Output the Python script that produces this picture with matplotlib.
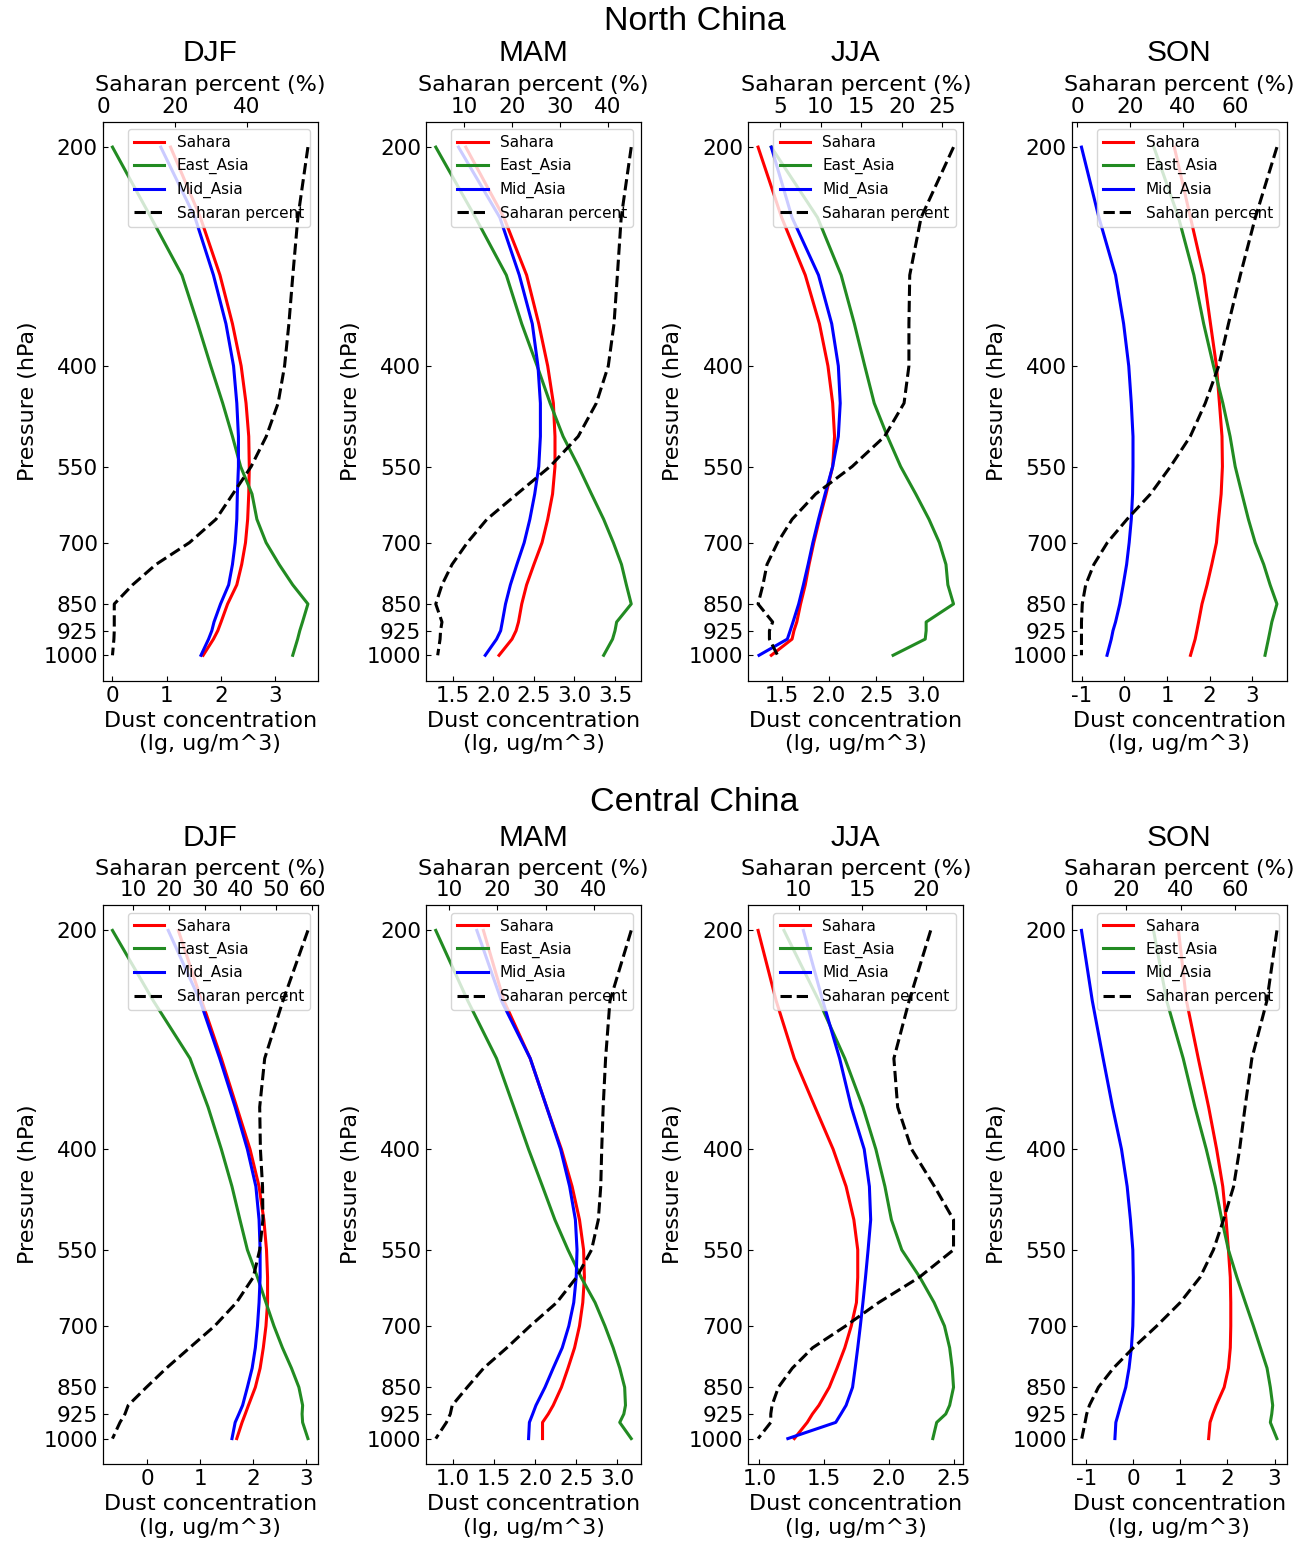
import matplotlib
matplotlib.use("Agg")
import matplotlib.pyplot as plt
from matplotlib.ticker import FixedLocator, FixedFormatter, NullLocator

plt.rcParams["font.family"] = ["DejaVu Sans"]
plt.rcParams["axes.unicode_minus"] = False

# pressure levels (hPa) shared by every profile
levels = [200, 250, 300, 350, 400, 450, 500, 550, 600, 650, 700, 750, 800,
          850, 900, 925, 950, 1000]
ytick_vals = [200, 400, 550, 700, 850, 925, 1000]

# ---- North China (lg ug/m^3; Saharan percent in %) ----
nc_djf_sahara = [1.07, 1.62, 1.98, 2.21, 2.37, 2.46, 2.51, 2.52, 2.51, 2.49,
                 2.45, 2.38, 2.29, 2.12, 2.00, 1.94, 1.86, 1.67]
nc_djf_east = [0.00, 0.71, 1.28, 1.57, 1.81, 2.03, 2.21, 2.36, 2.57, 2.66,
               2.83, 3.07, 3.32, 3.60, 3.50, 3.45, 3.41, 3.32]
nc_djf_mid = [0.89, 1.52, 1.86, 2.09, 2.23, 2.29, 2.32, 2.32, 2.30, 2.29,
              2.26, 2.21, 2.14, 1.99, 1.87, 1.83, 1.77, 1.63]
nc_djf_pct = [57.0, 54.2, 52.8, 51.7, 50.5, 48.7, 45.4, 41.2, 36.1, 31.4,
              24.0, 14.7, 8.2, 3.1, 3.1, 3.1, 3.0, 2.6]

nc_mam_sahara = [1.66, 2.13, 2.41, 2.56, 2.67, 2.74, 2.76, 2.76, 2.73, 2.67,
                 2.60, 2.50, 2.41, 2.35, 2.31, 2.28, 2.23, 2.07]
nc_mam_east = [1.29, 1.78, 2.16, 2.35, 2.54, 2.70, 2.86, 3.05, 3.21, 3.36,
               3.48, 3.58, 3.64, 3.70, 3.52, 3.50, 3.47, 3.36]
nc_mam_mid = [1.57, 2.08, 2.32, 2.48, 2.55, 2.58, 2.58, 2.56, 2.51, 2.45,
              2.38, 2.29, 2.21, 2.15, 2.11, 2.09, 2.04, 1.90]
nc_mam_pct = [44.9, 42.8, 42.0, 41.3, 40.1, 37.6, 33.8, 27.9, 21.0, 14.7,
              10.6, 7.4, 5.3, 4.0, 5.3, 5.0, 4.9, 4.4]

nc_jja_sahara = [1.25, 1.50, 1.75, 1.90, 1.99, 2.04, 2.06, 2.04, 1.97, 1.90,
                 1.84, 1.79, 1.75, 1.70, 1.66, 1.63, 1.61, 1.39]
nc_jja_east = [1.39, 1.88, 2.13, 2.27, 2.38, 2.48, 2.62, 2.76, 2.92, 3.06,
               3.17, 3.24, 3.26, 3.32, 3.03, 3.03, 3.02, 2.68]
nc_jja_mid = [1.39, 1.61, 1.89, 2.03, 2.10, 2.12, 2.10, 2.04, 1.96, 1.89,
              1.83, 1.78, 1.73, 1.68, 1.62, 1.59, 1.56, 1.26]
nc_jja_pct = [26.4, 22.4, 21.0, 20.9, 20.9, 20.3, 17.9, 13.9, 9.4, 6.5,
              4.7, 3.4, 2.9, 2.3, 4.1, 3.7, 3.7, 4.7]

nc_son_sahara = [1.17, 1.55, 1.86, 2.02, 2.16, 2.23, 2.29, 2.30, 2.27, 2.21,
                 2.16, 2.05, 1.94, 1.82, 1.74, 1.70, 1.66, 1.55]
nc_son_east = [0.69, 1.27, 1.63, 1.86, 2.09, 2.31, 2.48, 2.60, 2.76, 2.91,
               3.07, 3.27, 3.42, 3.58, 3.46, 3.42, 3.38, 3.30]
nc_son_mid = [-1.01, -0.60, -0.21, -0.02, 0.10, 0.16, 0.20, 0.20, 0.19, 0.16,
              0.11, 0.05, -0.03, -0.11, -0.21, -0.27, -0.31, -0.41]
nc_son_pct = [75.8, 67.6, 61.9, 57.4, 53.7, 48.6, 42.9, 35.4, 27.8, 18.9,
              11.4, 6.3, 3.2, 1.9, 1.6, 1.6, 1.6, 1.6]

# ---- Central China ----
cc_djf_sahara = [0.59, 1.03, 1.40, 1.69, 1.94, 2.11, 2.20, 2.25, 2.27, 2.27,
                 2.24, 2.19, 2.13, 2.04, 1.91, 1.85, 1.79, 1.69]
cc_djf_east = [-0.65, 0.12, 0.81, 1.15, 1.40, 1.60, 1.75, 1.89, 2.08, 2.24,
               2.39, 2.55, 2.72, 2.86, 2.93, 2.92, 2.93, 3.03]
cc_djf_mid = [0.40, 1.00, 1.37, 1.66, 1.89, 2.05, 2.11, 2.13, 2.13, 2.11,
              2.08, 2.04, 1.98, 1.89, 1.80, 1.73, 1.66, 1.60]
cc_djf_pct = [58.9, 51.9, 46.8, 45.4, 45.6, 46.2, 46.3, 45.4, 43.6, 38.9,
              32.8, 25.8, 19.3, 13.7, 8.6, 7.7, 6.3, 4.2]

cc_mam_sahara = [1.37, 1.62, 1.94, 2.14, 2.32, 2.45, 2.54, 2.59, 2.60, 2.58,
                 2.54, 2.48, 2.40, 2.32, 2.22, 2.16, 2.09, 2.09]
cc_mam_east = [0.79, 1.18, 1.53, 1.74, 1.92, 2.09, 2.24, 2.40, 2.56, 2.73,
               2.85, 2.95, 3.03, 3.09, 3.10, 3.08, 3.03, 3.17]
cc_mam_mid = [1.29, 1.59, 1.94, 2.14, 2.31, 2.42, 2.49, 2.51, 2.50, 2.47,
              2.41, 2.33, 2.22, 2.12, 2.01, 1.97, 1.93, 1.92]
cc_mam_pct = [47.7, 43.3, 42.4, 41.9, 41.6, 41.4, 40.9, 39.5, 36.4, 32.3,
              26.8, 22.0, 17.2, 13.8, 10.7, 10.3, 9.5, 7.3]

cc_jja_sahara = [0.99, 1.13, 1.27, 1.43, 1.57, 1.67, 1.73, 1.76, 1.76, 1.75,
                 1.71, 1.66, 1.60, 1.54, 1.46, 1.41, 1.37, 1.27]
cc_jja_east = [1.19, 1.46, 1.66, 1.80, 1.90, 1.97, 2.02, 2.10, 2.24, 2.35,
               2.43, 2.47, 2.49, 2.50, 2.47, 2.44, 2.37, 2.34]
cc_jja_mid = [1.34, 1.49, 1.62, 1.71, 1.81, 1.85, 1.86, 1.84, 1.82, 1.80,
              1.78, 1.76, 1.74, 1.72, 1.67, 1.63, 1.59, 1.22]
cc_jja_pct = [20.4, 18.7, 17.5, 17.8, 18.9, 20.7, 22.2, 22.2, 19.5, 16.3,
              13.7, 11.1, 9.5, 8.4, 7.9, 7.8, 7.8, 6.8]

cc_son_sahara = [0.96, 1.13, 1.38, 1.60, 1.77, 1.90, 1.97, 2.02, 2.06, 2.07,
                 2.07, 2.06, 2.02, 1.93, 1.76, 1.69, 1.63, 1.60]
cc_son_east = [0.43, 0.71, 1.06, 1.31, 1.55, 1.74, 1.88, 2.02, 2.20, 2.38,
               2.55, 2.70, 2.84, 2.91, 2.96, 2.94, 2.91, 3.05]
cc_son_mid = [-1.10, -0.87, -0.64, -0.44, -0.25, -0.13, -0.06, -0.01, 0.00,
              0.00, -0.01, -0.04, -0.09, -0.16, -0.27, -0.32, -0.37, -0.39]
cc_son_pct = [75.3, 71.6, 66.1, 63.6, 61.6, 59.4, 55.7, 52.0, 47.1, 39.8,
              31.2, 22.6, 15.3, 9.8, 6.5, 5.5, 4.9, 3.7]

seasons = ["DJF", "MAM", "JJA", "SON"]
regions = ["North China", "Central China"]

# tick positions per panel (bottom = dust, top = percent)
dust_ticks = [
    [[0, 1, 2, 3], [1.5, 2.0, 2.5, 3.0, 3.5], [1.5, 2.0, 2.5, 3.0], [-1, 0, 1, 2, 3]],
    [[0, 1, 2, 3], [1.0, 1.5, 2.0, 2.5, 3.0], [1.0, 1.5, 2.0, 2.5], [-1, 0, 1, 2, 3]],
]
pct_ticks = [
    [[0, 20, 40], [10, 20, 30, 40], [5, 10, 15, 20, 25], [0, 20, 40, 60]],
    [[10, 20, 30, 40, 50, 60], [10, 20, 30, 40], [10, 15, 20], [0, 20, 40, 60]],
]

profiles = [
    [(nc_djf_sahara, nc_djf_east, nc_djf_mid, nc_djf_pct),
     (nc_mam_sahara, nc_mam_east, nc_mam_mid, nc_mam_pct),
     (nc_jja_sahara, nc_jja_east, nc_jja_mid, nc_jja_pct),
     (nc_son_sahara, nc_son_east, nc_son_mid, nc_son_pct)],
    [(cc_djf_sahara, cc_djf_east, cc_djf_mid, cc_djf_pct),
     (cc_mam_sahara, cc_mam_east, cc_mam_mid, cc_mam_pct),
     (cc_jja_sahara, cc_jja_east, cc_jja_mid, cc_jja_pct),
     (cc_son_sahara, cc_son_east, cc_son_mid, cc_son_pct)],
]

W, H = 1308, 1545
fig = plt.figure(figsize=(W / 100, H / 100), dpi=100)

col_left = [102.7, 426.0, 748.3, 1071.7]
row_top = [121.7, 905.0]
ax_w, ax_h = 215.0, 559.0
lw = 2.2
title_font = ["Liberation Sans", "DejaVu Sans"]

for r in range(2):
    for c in range(4):
        sah, east, mid, pct = profiles[r][c]
        l, t = col_left[c], row_top[r]
        ax = fig.add_axes([l / W, 1 - (t + ax_h) / H, ax_w / W, ax_h / H])
        ax.set_yscale("log")
        h1, = ax.plot(sah, levels, color="red", lw=lw, label="Sahara")
        h2, = ax.plot(east, levels, color="forestgreen", lw=lw,
                      label="East_Asia")
        h3, = ax.plot(mid, levels, color="blue", lw=lw, label="Mid_Asia")

        ax2 = ax.twiny()
        h4, = ax2.plot(pct, levels, color="black", ls="--", lw=lw,
                       label="Saharan percent")
        ax.invert_yaxis()

        ax.yaxis.set_major_locator(FixedLocator(ytick_vals))
        ax.yaxis.set_major_formatter(FixedFormatter([str(v) for v in ytick_vals]))
        ax.yaxis.set_minor_locator(NullLocator())
        ax.set_xticks(dust_ticks[r][c])
        ax2.set_xticks(pct_ticks[r][c])

        ax.tick_params(direction="in", labelsize=15.5, which="both")
        ax2.tick_params(direction="in", labelsize=15.5)
        ax.set_xlabel("Dust concentration\n(lg, ug/m^3)", fontsize=16)
        ax2.set_xlabel("Saharan percent (%)", fontsize=16)
        ax.set_ylabel("Pressure (hPa)", fontsize=16)

        ax.legend([h1, h2, h3, h4],
                  ["Sahara", "East_Asia", "Mid_Asia", "Saharan percent"],
                  loc="upper right", fontsize=11)

        title_y = 53 if r == 0 else 838
        fig.text((l + ax_w / 2) / W, 1 - title_y / H, seasons[c],
                 fontsize=21.5, family=title_font, ha="center", va="center")

mid_x = (col_left[0] + col_left[-1] + ax_w) / 2 / W
fig.text(mid_x, 1 - 22 / H, regions[0], fontsize=24.5, family=title_font,
         ha="center", va="center")
fig.text(mid_x, 1 - 802 / H, regions[1], fontsize=24.5, family=title_font,
         ha="center", va="center")

fig.savefig("out.png", dpi=100)
